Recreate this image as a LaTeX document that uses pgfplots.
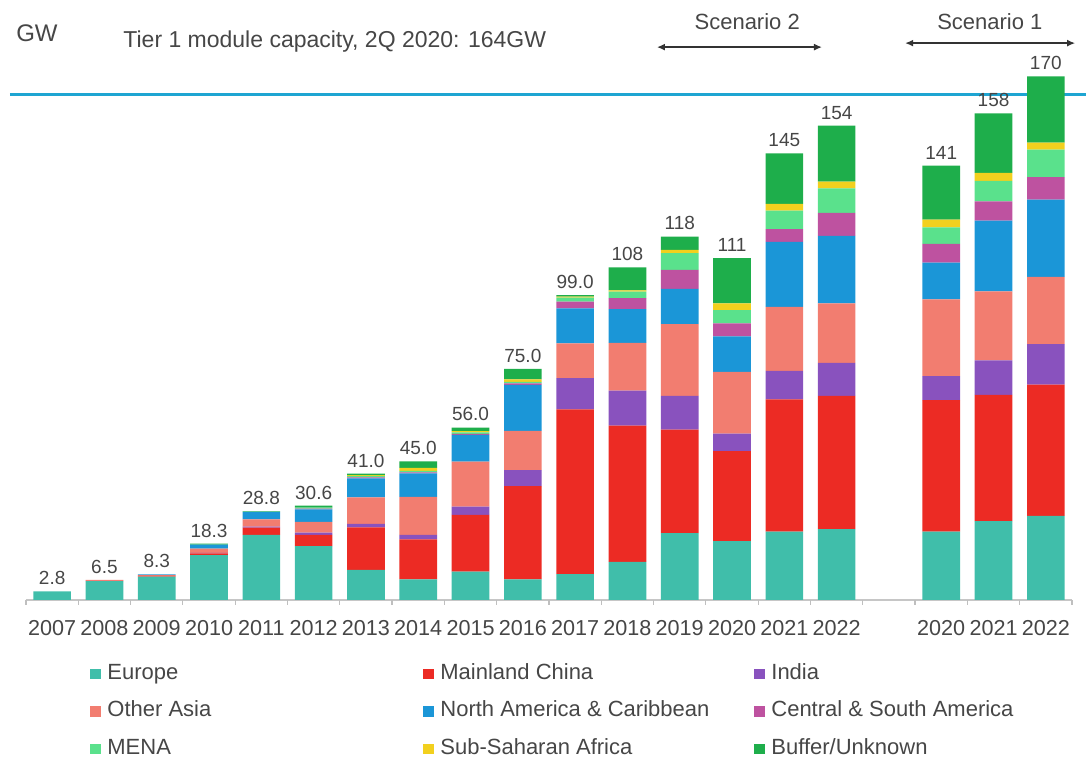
\documentclass[border=0pt]{standalone}
\usepackage{fontspec}
\setmainfont{Liberation Sans}
\usepackage{pgfplots}
\usepackage{pgfplotstable}
\pgfplotsset{compat=1.18}
\usetikzlibrary{arrows.meta}
\definecolor{cEu}{RGB}{64,190,170}
\definecolor{cCh}{RGB}{236,43,36}
\definecolor{cIn}{RGB}{137,82,190}
\definecolor{cOA}{RGB}{242,125,112}
\definecolor{cNA}{RGB}{27,150,215}
\definecolor{cCS}{RGB}{190,82,160}
\definecolor{cME}{RGB}{90,225,140}
\definecolor{cSS}{RGB}{242,208,30}
\definecolor{cBu}{RGB}{30,174,75}
\definecolor{cLine}{RGB}{30,165,210}
\definecolor{txt}{RGB}{70,70,70}

\pgfplotstableread{
x  Eu   Ch   In   OA   NA   CS  ME  SS  Bu   lbl
0  2.8  0    0    0    0    0   0   0   0    2.8
1  6.1  0.2  0    0.2  0    0   0   0   0    6.5
2  7.6  0.2  0    0.3  0.2  0   0   0   0    8.3
3  14.6 0.5  0.2  1.4  1.3  0   0   0   0.3  18.3
4  21.1 2.4  0.3  2.4  2.4  0   0   0   0.2  28.8
5  17.5 3.6  0.8  3.5  4.0  0.3 0.3 0   0.6  30.6
6  9.8  13.8 1.1  8.6  6.2  0.3 0.5 0.2 0.5  41.0
7  6.7  13.0 1.4  12.4 7.6  0.3 0.5 1.0 2.1  45.0
8  9.2  18.4 2.7  14.6 8.7  0.3 0.5 0.4 1.2  56.0
9  6.7  30.3 5.2  12.7 14.9 0.5 0.5 0.8 3.4  75.0
10 8.4  53.5 10.1 11.3 11.4 2.2 1.3 0.3 0.5  99.0
11 12.4 44.2 11.4 15.5 10.9 3.6 2.1 0.4 7.5  108
12 21.7 33.6 11.0 23.3 11.4 6.2 5.4 1.1 4.3  118
13 19.1 29.2 5.7  20.1 11.5 4.2 4.3 2.2 14.7 111
14 22.2 42.9 9.3  20.8 21.1 4.1 6.0 2.2 16.4 145
15 23.0 43.3 10.7 19.3 21.9 7.5 7.9 2.2 18.2 154
17 22.2 42.7 7.8  24.9 11.9 6.1 5.4 2.5 17.5 141
18 25.6 41.0 11.2 22.4 23.0 6.2 6.7 2.6 19.3 158
19 27.3 42.6 13.2 21.8 25.1 7.3 8.9 2.3 21.5 170
}\data

\pgfplotsset{
  mybar/.style={fill=#1, draw=none,
    legend image code/.code={\fill[#1] (0pt,-2.65pt) rectangle (5.3pt,2.65pt); \path (8.5pt,0pt);}},
}
\tikzset{lab/.style={font=\fontsize{9.5}{11}\selectfont, text=txt, anchor=south, inner sep=0pt, yshift=3pt}}

\begin{document}
\begin{tikzpicture}
\begin{axis}[
  x=26.15pt, y=1.54pt,
  xmin=-0.5, xmax=19.5, ymin=0, ymax=190,
  ybar stacked, bar width=0.72,
  axis x line=bottom, axis y line=none,
  x axis line style={-, draw=gray!45, line width=0.8pt},
  xtick={0,1,2,3,4,5,6,7,8,9,10,11,12,13,14,15,17,18,19},
  xticklabels={2007,2008,2009,2010,2011,2012,2013,2014,2015,2016,2017,2018,2019,2020,2021,2022,2020,2021,2022},
  major tick length=0pt,
  xticklabel style={font=\fontsize{10.8}{12}\selectfont, text=txt, anchor=base, yshift=-17.85pt},
  extra x ticks={-0.5,0.5,...,19.5},
  extra x tick labels={},
  extra x tick style={major tick length=2.5pt, tick align=outside, tick style={gray!50, line width=0.6pt}},
  clip=false,
  legend columns=3,
  legend cell align=left,
  legend style={at={(0.0612,-0.1095)}, anchor=north west, draw=none, fill=none,
    inner sep=0pt, column sep=0pt, row sep=9.25pt,
    font=\fontsize{11}{12}\selectfont, text=txt,
    nodes={inner sep=0pt, text height=7.5pt, text depth=2pt}},
]
\addplot[mybar=cEu] table[x=x,y=Eu]{\data};
\addlegendentry{\makebox[158pt][l]{Europe}}
\addplot[mybar=cCh] table[x=x,y=Ch]{\data};
\addlegendentry{\makebox[157pt][l]{Mainland China}}
\addplot[mybar=cIn] table[x=x,y=In]{\data};
\addlegendentry{India}
\addplot[mybar=cOA] table[x=x,y=OA]{\data};
\addlegendentry{\makebox[158pt][l]{Other Asia}}
\addplot[mybar=cNA] table[x=x,y=NA]{\data};
\addlegendentry{\makebox[157pt][l]{North America \& Caribbean}}
\addplot[mybar=cCS] table[x=x,y=CS]{\data};
\addlegendentry{Central \& South America}
\addplot[mybar=cME] table[x=x,y=ME]{\data};
\addlegendentry{\makebox[158pt][l]{MENA}}
\addplot[mybar=cSS] table[x=x,y=SS]{\data};
\addlegendentry{\makebox[157pt][l]{Sub-Saharan Africa}}
\addplot[mybar=cBu] table[x=x,y=Bu]{\data};
\addlegendentry{Buffer/Unknown}

\pgfplotsinvokeforeach{0,...,18}{
  \pgfplotstablegetelem{#1}{x}\of\data \edef\lx{\pgfplotsretval}
  \pgfplotstablegetelem{#1}{lbl}\of\data \edef\ll{\pgfplotsretval}
  \edef\tmp{\noexpand\node[lab] at (axis cs:\lx,\ll) {\ll};}\tmp
}

\draw[cLine, line width=1.5pt] (axis cs:-0.806,164) -- (axis cs:19.77,164);
\node[font=\fontsize{12}{14}\selectfont, text=txt] at (axis cs:-0.29,184.1) {GW};
\node[anchor=west, inner sep=0pt, font=\fontsize{11.5}{13}\selectfont, text=txt] at (axis cs:1.355,181.2) {Tier 1 module capacity, 2Q 2020: 164GW};
\node[font=\fontsize{11}{13}\selectfont, text=txt] at (axis cs:13.29,187.7) {Scenario 2};
\node[font=\fontsize{11}{13}\selectfont, text=txt] at (axis cs:17.93,187.7) {Scenario 1};
\draw[{Latex[length=4pt,width=3.5pt]}-{Latex[length=4pt,width=3.5pt]}, line width=0.7pt, black!80] (axis cs:11.565,179.5) -- (axis cs:14.72,179.5);
\draw[{Latex[length=4pt,width=3.5pt]}-{Latex[length=4pt,width=3.5pt]}, line width=0.7pt, black!80] (axis cs:16.31,180.8) -- (axis cs:19.56,180.8);
\coordinate (bbsw) at (axis cs:-0.997,-51.3);
\coordinate (bbne) at (axis cs:19.768,194.8);
\end{axis}
\pgfresetboundingbox
\useasboundingbox (bbsw) rectangle (bbne);
\end{tikzpicture}
\end{document}
